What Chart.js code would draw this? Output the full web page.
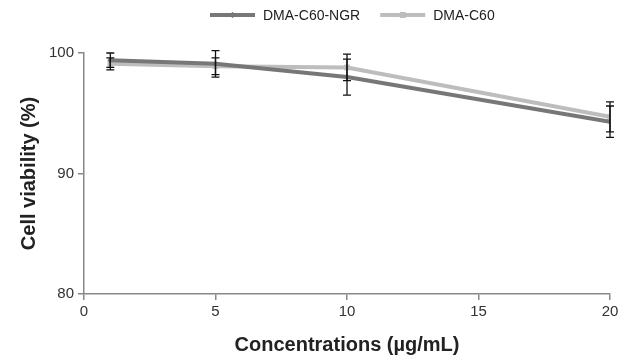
<!DOCTYPE html>
<html>
<head>
<meta charset="utf-8">
<script src="https://cdn.jsdelivr.net/npm/chart.js@4/dist/chart.umd.min.js"></script>
<style>
  html, body { margin: 0; padding: 0; background: #fff; }
  #wrap { width: 618px; height: 360px; }
</style>
</head>
<body>
<div id="wrap"><canvas id="chart" width="618" height="360"></canvas></div>
<script>
  // Concentrations (x) and mean viability with error (±)
  const concentrations = [1, 5, 10, 20];
  const ngrValues = [99.4, 99.1, 98.0, 94.3];
  const ngrErrors = [0.6, 1.1, 1.5, 1.3];
  const c60Values = [99.1, 98.9, 98.8, 94.7];
  const c60Errors = [0.5, 0.7, 1.1, 1.25];
  const xTicks = [0, 5, 10, 15, 20];
  const yTicks = [80, 90, 100];

  const FONT = '"Liberation Sans", Arial, sans-serif';
  const NGR_COLOR = '#777777';
  const C60_COLOR = '#bdbdbd';

  const series = [
    { label: 'DMA-C60-NGR', values: ngrValues, errors: ngrErrors, color: NGR_COLOR, marker: 'rectRot', r: 3 },
    { label: 'DMA-C60', values: c60Values, errors: c60Errors, color: C60_COLOR, marker: 'rect', r: 4 }
  ];

  // Error bars drawn from the data through the chart's scales
  const errorBars = {
    id: 'errorBars',
    afterDatasetsDraw(chart) {
      const { ctx, scales: { x, y } } = chart;
      ctx.save();
      ctx.strokeStyle = '#111';
      ctx.lineWidth = 1.3;
      series.forEach(s => {
        s.values.forEach((v, i) => {
          const px = x.getPixelForValue(concentrations[i]);
          const top = y.getPixelForValue(v + s.errors[i]);
          const bot = y.getPixelForValue(v - s.errors[i]);
          ctx.beginPath();
          ctx.moveTo(px, top); ctx.lineTo(px, bot);
          ctx.moveTo(px - 4, top); ctx.lineTo(px + 4, top);
          ctx.moveTo(px - 4, bot); ctx.lineTo(px + 4, bot);
          ctx.stroke();
        });
      });
      ctx.restore();
    }
  };

  // Legend with line + marker samples
  const lineLegend = {
    id: 'lineLegend',
    afterDraw(chart) {
      const { ctx } = chart;
      ctx.save();
      ctx.font = '14px ' + FONT;
      ctx.textBaseline = 'middle';
      const yMid = 15;
      const sample = 45, gap = 8, between = 20;
      let xPos = 210;
      series.forEach(s => {
        ctx.strokeStyle = s.color;
        ctx.lineWidth = 4;
        ctx.beginPath();
        ctx.moveTo(xPos, yMid); ctx.lineTo(xPos + sample, yMid);
        ctx.stroke();
        ctx.fillStyle = s.color;
        Chart.helpers.drawPoint(ctx, { pointStyle: s.marker, radius: s.r, borderWidth: 0 }, xPos + sample / 2, yMid);
        ctx.fill();
        ctx.fillStyle = '#222';
        ctx.fillText(s.label, xPos + sample + gap, yMid + 1);
        xPos += sample + gap + ctx.measureText(s.label).width + between;
      });
      ctx.restore();
    }
  };

  new Chart(document.getElementById('chart'), {
    type: 'line',
    data: {
      datasets: series.map(s => ({
        label: s.label,
        data: concentrations.map((c, i) => ({ x: c, y: s.values[i] })),
        borderColor: s.color,
        backgroundColor: s.color,
        borderWidth: 4,
        pointStyle: s.marker,
        pointRadius: s.r,
        pointBorderWidth: 0,
        tension: 0
      }))
    },
    options: {
      responsive: false,
      animation: false,
      layout: { padding: { top: 53, right: 8, left: 0, bottom: 0 } },
      plugins: { legend: { display: false }, tooltip: { enabled: false } },
      scales: {
        x: {
          type: 'linear',
          min: 0, max: 20,
          afterBuildTicks: s => { s.ticks = xTicks.map(v => ({ value: v })); },
          afterFit: s => { s.height = 66; s.paddingRight = 0; s.paddingLeft = 0; },
          grid: { drawOnChartArea: false, color: '#888', tickLength: 6, lineWidth: 1.5 },
          border: { color: '#888', width: 1.5 },
          ticks: { color: '#333', font: { family: FONT, size: 15 }, padding: 3, maxRotation: 0 },
          title: { display: true, text: 'Concentrations (\u00b5g/mL)', color: '#222', font: { family: FONT, size: 20, weight: 'bold' }, padding: { top: 0, bottom: 3 } }
        },
        y: {
          min: 80, max: 100,
          afterBuildTicks: s => { s.ticks = yTicks.map(v => ({ value: v })); },
          afterFit: s => { s.width = 84; s.paddingTop = 0; s.paddingBottom = 0; },
          grid: { drawOnChartArea: false, color: '#888', tickLength: 6, lineWidth: 1.5 },
          border: { color: '#888', width: 1.5 },
          ticks: { color: '#333', font: { family: FONT, size: 15 }, padding: 4 },
          title: { display: true, text: 'Cell viability (%)', color: '#222', font: { family: FONT, size: 20, weight: 'bold' }, padding: { top: 17, bottom: 0 } }
        }
      }
    },
    plugins: [errorBars, lineLegend]
  });
</script>
</body>
</html>
